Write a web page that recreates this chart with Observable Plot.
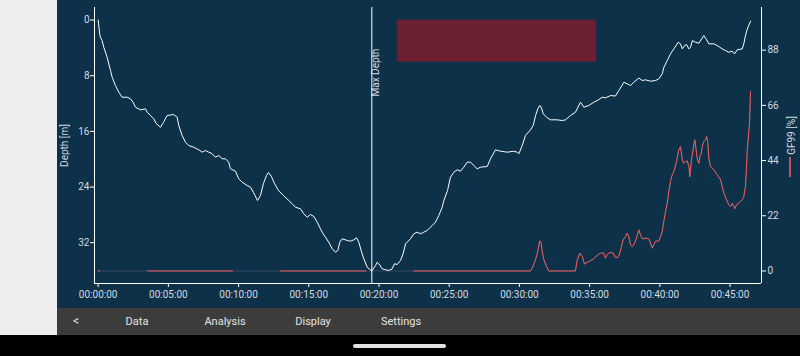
<!DOCTYPE html>
<html><head><meta charset="utf-8">
<script src="https://cdn.jsdelivr.net/npm/d3@7"></script>
<script src="https://cdn.jsdelivr.net/npm/@observablehq/plot@0.6"></script>
<style>
html,body{margin:0;padding:0;background:#000;}
#page{position:relative;width:800px;height:356px;overflow:hidden;background:#000;font-family:Roboto,sans-serif;}
#side{position:absolute;left:0;top:0;width:57px;height:335px;background:#eeeeee;}
#chart{position:absolute;left:57px;top:0;width:743px;height:308px;background:#0e314a;}
#chart svg{display:block;}
#bar{position:absolute;left:57px;top:308px;width:743px;height:27px;background:#3c3c3c;color:#e4e4e4;font-size:11px;}
#bar span{position:absolute;top:0;line-height:27px;transform:translateX(-50%);white-space:nowrap;}
#pill{position:absolute;left:353px;top:344px;width:93px;height:3.5px;border-radius:2px;background:#e2e2e2;}
#legline{position:absolute;left:789px;top:157px;width:1.5px;height:20px;background:#c4525e;}
</style></head>
<body>
<div id="page">
  <div id="side"></div>
  <div id="chart"></div>
  <div id="legline"></div>
  <div id="bar">
    <span style="left:19px;font-size:12px;">&lt;</span>
    <span style="left:80px;">Data</span>
    <span style="left:168px;">Analysis</span>
    <span style="left:256px;">Display</span>
    <span style="left:344px;">Settings</span>
  </div>
  <div id="pill"></div>
</div>
<script>
// Dive profile: time in minutes, depth in metres
const depthTime = [0,0.11,0.16,0.28,0.40,0.64,0.88,1.00,1.23,1.47,
1.71,2.07,2.30,2.49,2.66,3.01,3.37,3.49,3.73,3.96,
4.15,4.44,4.65,4.91,5.15,5.36,5.63,5.74,5.98,6.22,
6.45,6.81,7.17,7.41,7.64,7.88,8.12,8.35,8.59,8.83,
9.07,9.30,9.42,9.78,10.01,10.26,10.61,10.85,11.06,11.35,
11.56,11.77,11.99,12.13,12.34,12.56,12.84,13.20,13.58,13.82,
14.05,14.41,14.64,14.89,15.12,15.36,15.60,15.83,15.95,16.19,
16.42,16.67,16.90,17.07,17.21,17.38,17.74,17.97,18.21,18.40,
18.56,18.80,18.92,19.16,19.39,19.49,19.76,19.87,19.99,20.23,
20.46,20.70,20.94,21.10,21.30,21.53,21.72,21.89,22.24,22.48,
22.72,22.96,23.19,23.43,23.79,24.02,24.26,24.50,24.62,24.88,
25.09,25.33,25.57,25.80,26.04,26.28,26.52,26.75,26.99,27.23,
27.71,27.94,28.30,28.65,29.13,29.60,29.84,29.96,30.20,30.43,
30.79,30.98,31.15,31.31,31.45,31.55,31.70,31.98,32.22,32.69,
33.05,33.28,33.64,33.99,34.35,34.59,34.94,35.30,35.54,35.90,
36.13,36.49,36.84,37.08,37.44,37.68,37.91,38.15,38.50,38.75,
38.98,39.34,39.70,39.93,40.17,40.29,40.53,40.76,41.00,41.31,
41.47,41.60,41.77,41.90,42.07,42.19,42.31,42.54,42.78,43.13,
43.33,43.49,43.85,44.20,44.44,44.68,44.91,45.16,45.32,45.51,
45.87,45.98,46.10,46.23,46.46];
const depthValue = [0,1.98,2.47,2.95,3.91,5.34,7.26,8.22,9.41,10.37,
11.09,11.09,11.32,11.81,12.53,12.90,12.76,13.25,13.72,14.20,
14.91,15.40,14.73,13.72,13.65,13.58,13.97,15.16,16.59,17.56,
18.03,18.28,18.65,18.99,18.75,18.99,19.22,19.71,19.47,19.94,
19.94,20.43,21.38,21.72,22.82,23.30,23.78,24.02,24.78,25.93,
25.22,23.49,22.34,21.91,22.49,23.49,24.50,25.22,25.93,26.41,
26.90,27.13,27.84,28.33,27.95,28.23,29.05,30.00,30.49,31.21,
31.93,32.87,33.36,33.12,31.93,31.44,31.68,31.78,31.58,31.29,
31.93,33.59,34.31,35.52,35.92,36.06,35.27,34.80,35.03,35.75,
35.89,35.99,35.75,35.03,35.13,34.55,33.59,32.16,31.44,30.72,
30.49,30.72,30.49,30.24,29.53,29.05,28.09,26.90,25.93,24.50,
22.59,21.87,21.52,21.72,21.15,20.43,20.43,20.91,21.38,21.15,
21.05,19.94,18.65,18.85,18.99,18.85,18.99,19.22,18.03,16.59,
15.78,15.16,13.72,12.76,12.28,12.53,13.48,14.05,14.34,14.34,
14.44,14.34,13.72,13.25,11.81,12.53,12.28,11.81,11.57,11.09,
11.18,10.85,10.92,10.13,8.94,9.17,9.41,8.94,8.33,8.69,
8.59,8.79,8.69,8.45,7.73,6.78,5.82,4.86,4.14,3.19,
3.42,4.14,3.66,3.52,4.14,3.91,2.95,3.19,3.33,2.23,
2.84,3.42,3.42,3.81,4.14,4.38,4.63,4.48,4.86,4.28,
4.14,3.42,2.23,1.26,0.17];

// GF99 [%] over time (null = no value, shown as dim connector)
const gfTime = [0,0.1,1.5,3.52,9.57,11.0,12.98,19.04,20.5,22.46,
30.79,30.91,31.15,31.31,31.45,31.55,31.62,31.74,31.93,32.09,
33.99,34.12,34.31,34.47,34.64,34.83,35.07,35.30,35.54,35.77,
36.01,36.13,36.25,36.44,36.68,36.84,37.01,37.15,37.25,37.39,
37.56,37.68,37.79,37.91,38.03,38.15,38.34,38.50,38.62,38.75,
38.98,39.22,39.34,39.46,39.57,39.69,39.93,40.05,40.17,40.28,
40.41,40.53,40.64,40.76,40.88,41.00,41.19,41.35,41.47,41.60,
41.71,41.83,41.95,42.07,42.14,42.24,42.38,42.49,42.54,42.66,
42.78,42.85,42.95,43.02,43.13,43.26,43.33,43.42,43.49,43.61,
43.85,44.09,44.33,44.44,44.56,44.75,44.91,45.03,45.16,45.27,
45.34,45.46,45.63,45.87,45.98,46.10,46.17,46.22,46.34,46.39,
46.46];
const gfValue = [0,0,null,0,0,null,0,0,null,0,
0,1.1,4.5,7.8,12,11,7.8,4.5,1.8,0,
0,4.5,7.1,5.8,2.7,3.5,4.1,4.9,6.2,7.1,
7.1,5.1,6.5,7.4,7.1,5.4,5.4,7.1,9.4,12.4,
13.7,15.1,13.7,10.4,9.8,10.4,13.1,16.4,14.4,12.8,
13.1,12.8,11.1,9.1,10.4,11.8,12,13.7,15.7,19.7,
23.7,27,31.7,35.7,38.3,39.6,43.6,48.3,49.6,44.3,
42.9,43.6,43.9,41.6,37.6,43.6,48.9,52.3,50.3,44.9,
42.9,45.6,46.9,49.6,51.6,52.3,53.6,50.9,44.9,41.6,
40.3,38.3,36.3,33.7,31,28.4,26.4,25.7,27,25.7,
24.8,26.4,27,28.4,29.7,33.7,41,47.6,55.6,59.6,
71.5];

const xTickMinutes = [0,5,10,15,20,25,30,35,40,45];
const depthTicks = [0,8,16,24,32];
const gfTicks = [0,22,44,66,88];
const highlightTime = [21.3, 35.5];
const highlightDepth = [0, 6.06];

const profile = depthTime.map((t,i)=>({t, depth: depthValue[i]}));
const maxDepth = d3.max(depthValue);
const maxIdx = d3.maxIndex(depthValue);
const maxDepthTime = depthTime[maxIdx];
const gfToDepth = g => maxDepth * (1 - g/100);
const gf = gfTime.map((t,i)=>({t, g: gfValue[i]}));
const gfDefined = gf.filter(d => d.g != null);

const pad = n => String(n).padStart(2,"0");
const fmtTime = m => "00:" + pad(m) + ":00";

const chart = Plot.plot({
  width: 743, height: 308,
  marginLeft: 37, marginRight: 39, marginTop: 7, marginBottom: 25,
  style: {background: "transparent", color: "#d3dae1", fontFamily: "Roboto, sans-serif", fontSize: "10px"},
  x: {domain: [-0.26, 47.24]},
  y: {domain: [-0.05*maxDepth, 1.05*maxDepth], reverse: true},
  marks: [
    Plot.rect([0], {x1: () => highlightTime[0], x2: () => highlightTime[1], y1: () => highlightDepth[0], y2: () => highlightDepth[1], fill: "#6b1f30"}),
    Plot.line(gfDefined, {x: "t", y: d => gfToDepth(d.g), stroke: "#33495f", strokeWidth: 1}),
    Plot.line(gf, {x: "t", y: d => d.g == null ? NaN : gfToDepth(d.g), stroke: "#f25c5c", strokeWidth: 1}),
    Plot.line(profile, {x: "t", y: "depth", stroke: "#ffffff", strokeWidth: 1}),
    Plot.ruleX([maxDepthTime], {stroke: "#ffffff", strokeWidth: 1}),
    Plot.text(["Max Depth"], {x: () => maxDepthTime, frameAnchor: "top", rotate: -90, textAnchor: "start", lineAnchor: "bottom", dx: 7.5, dy: 89, fill: "#d3dae1", fontSize: 10}),
    Plot.axisX({ticks: xTickMinutes, tickFormat: fmtTime, tickSize: 4, tickPadding: 3, stroke: "#ffffff", label: null}),
    Plot.ruleY([1.05*maxDepth], {stroke: "#ffffff"}),
    Plot.axisY({ticks: depthTicks, tickSize: 4, tickPadding: 1, stroke: "#ffffff", label: null}),
    Plot.ruleX([-0.26, 47.24], {stroke: "#ffffff"}),
    Plot.axisY({anchor: "right", ticks: gfTicks.map(gfToDepth), tickFormat: d => String(Math.round(100*(1 - d/maxDepth))), tickSize: 4, tickPadding: 2, stroke: "#ffffff", label: null}),
    Plot.text(["Depth [m]"], {frameAnchor: "left", rotate: -90, lineAnchor: "bottom", textAnchor: "middle", dx: -27, dy: 0, fill: "#d3dae1", fontSize: 10}),
    Plot.text(["GF99 [%]"], {frameAnchor: "right", rotate: -90, lineAnchor: "bottom", textAnchor: "middle", dx: 33, dy: -10, fill: "#d3dae1", fontSize: 10})
  ]
});
document.getElementById("chart").appendChild(chart);
</script>
</body></html>
